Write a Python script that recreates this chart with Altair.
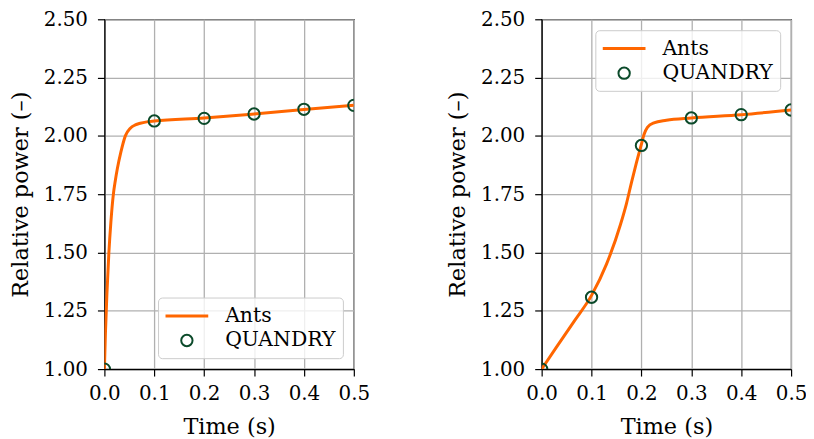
import altair as alt
import pandas as pd

# ---- data ----
series_names = ["Ants", "QUANDRY"]

left_line_t = [0, 0.002, 0.005, 0.009, 0.013, 0.018, 0.022, 0.026, 0.033, 0.042, 0.052, 0.062, 0.072, 0.085, 0.1, 0.2, 0.3, 0.4, 0.5]
left_line_v = [1.0, 1.15, 1.32, 1.50, 1.63, 1.75, 1.81, 1.86, 1.93, 2.0, 2.033, 2.047, 2.054, 2.060, 2.064, 2.077, 2.094, 2.113, 2.131]

right_line_t = [0, 0.03, 0.065, 0.1, 0.13, 0.158, 0.17, 0.18, 0.19, 0.2, 0.205, 0.212, 0.225, 0.25, 0.3, 0.4, 0.5]
right_line_v = [1.0, 1.095, 1.205, 1.316, 1.45, 1.62, 1.71, 1.80, 1.885, 1.965, 2.005, 2.037, 2.056, 2.067, 2.077, 2.091, 2.111]

point_t = [0.0, 0.1, 0.2, 0.3, 0.4, 0.5]
left_point_v = [1.0, 2.064, 2.075, 2.094, 2.114, 2.131]
right_point_v = [1.0, 1.308, 1.959, 2.077, 2.091, 2.111]

x_ticks = [0.0, 0.1, 0.2, 0.3, 0.4, 0.5]
y_ticks = [1.0, 1.25, 1.5, 1.75, 2.0, 2.25, 2.5]

ORANGE = "#ff6600"
GREEN = "#0b4a2a"
FONT = "DejaVu Serif"
LINE_SYMBOL = "M-2.15,0H2.15"

axis_style = dict(
    labelFont=FONT, labelFontSize=20, labelColor="black", labelFlush=False,
    titleFont=FONT, titleFontSize=22.5, titleFontWeight="normal", titleColor="black",
    domainColor="black", domainWidth=1.2, tickColor="black", tickWidth=1.2, tickSize=7,
    gridColor="#b0b0b0", gridWidth=1.3,
)


def panel(line_t, line_v, pt_v, legend_orient):
    line_df = pd.DataFrame({"t": line_t, "v": line_v, "series": series_names[0]})
    pt_df = pd.DataFrame({"t": point_t, "v": pt_v, "series": series_names[1]})

    x = alt.X("t:Q", title="Time (s)",
              scale=alt.Scale(domain=[0, 0.5], nice=False),
              axis=alt.Axis(values=x_ticks, format=".1f", titlePadding=12, labelPadding=8, **axis_style))
    y = alt.Y("v:Q", title="Relative power (–)",
              scale=alt.Scale(domain=[1.0, 2.5], nice=False, zero=False),
              axis=alt.Axis(values=y_ticks, format=".2f", titlePadding=11, labelPadding=10, **axis_style))

    def legend():
        return alt.Legend(
            title=None, orient=legend_orient, offset=11,
            labelFont=FONT, labelFontSize=20.5, labelColor="black",
            fillColor="rgba(255,255,255,0.8)", strokeColor="#cccccc",
            cornerRadius=4, padding=7, rowPadding=4,
            symbolOffset=10.5, labelOffset=27,
        )

    color = alt.Color("series:N",
                      scale=alt.Scale(domain=series_names, range=[ORANGE, GREEN]),
                      legend=legend())
    shape = alt.Shape("series:N",
                      scale=alt.Scale(domain=series_names, range=[LINE_SYMBOL, "circle"]),
                      legend=legend())
    size = alt.Size("series:N",
                    scale=alt.Scale(domain=series_names, range=[400, 130]),
                    legend=legend())
    sw = alt.StrokeWidth("series:N",
                         scale=alt.Scale(domain=series_names, range=[3, 2]),
                         legend=legend())

    line = alt.Chart(line_df).mark_line(strokeWidth=3, interpolate="monotone", clip=True).encode(
        x=x, y=y, color=color)
    pts = alt.Chart(pt_df).mark_point(filled=False, opacity=1, clip=True).encode(
        x=x, y=y, color=color, shape=shape, size=size, strokeWidth=sw)
    return alt.layer(line, pts).properties(width=251, height=352)


left = panel(left_line_t, left_line_v, left_point_v, "bottom-right")
right = panel(right_line_t, right_line_v, right_point_v, "top-right")

chart = (
    alt.hconcat(left, right, spacing=75)
    .resolve_scale(color="independent", shape="independent", size="independent", strokeWidth="independent")
    .resolve_legend(color="independent", shape="independent", size="independent", strokeWidth="independent")
    .properties(padding={"left": 0, "top": -1, "right": -2, "bottom": 0})
    .configure(font=FONT)
    .configure_view(stroke="black", strokeWidth=1.2)
    .configure_axis(labelFont=FONT, titleFont=FONT)
)

chart.save("out.html", embed_options={"renderer": "svg", "actions": False})
